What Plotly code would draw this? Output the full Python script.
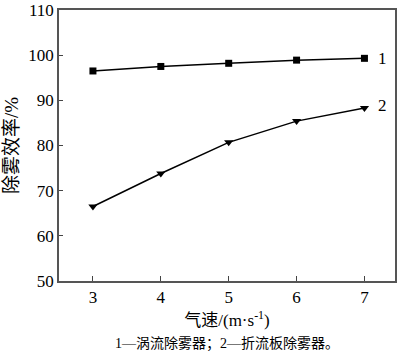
import plotly.graph_objects as go

speed = [3, 4, 5, 6, 7]
eff_vortex = [96.5, 97.5, 98.2, 98.9, 99.3]
eff_baffle = [66.5, 73.8, 80.7, 85.4, 88.3]
x_ticks = [3, 4, 5, 6, 7]
y_ticks = [50, 60, 70, 80, 90, 100, 110]

FONT = "Liberation Serif, Noto Sans CJK SC"

fig = go.Figure()
fig.add_trace(go.Scatter(x=speed, y=eff_vortex, mode="lines+markers",
                         line=dict(color="black", width=1.5),
                         marker=dict(symbol="square", size=7, color="black"),
                         showlegend=False, cliponaxis=False))
fig.add_trace(go.Scatter(x=speed, y=eff_baffle, mode="lines+markers",
                         line=dict(color="black", width=1.5),
                         marker=dict(symbol="triangle-down", size=8, color="black"),
                         showlegend=False, cliponaxis=False))

fig.add_annotation(x=speed[-1], y=eff_vortex[-1], text="1", showarrow=False,
                   xanchor="left", xshift=12, font=dict(size=17))
fig.add_annotation(x=speed[-1], y=eff_baffle[-1], text="2", showarrow=False,
                   xanchor="left", xshift=12, yshift=3, font=dict(size=17))
fig.add_annotation(x=0.5, y=-(344 - 281) / 271, xref="paper", yref="paper",
                   text="1—涡流除雾器；2—折流板除雾器。",
                   showarrow=False, font=dict(size=14, family=FONT),
                   xanchor="center", yanchor="middle")

fig.update_layout(
    width=400, height=354,
    margin=dict(l=59, r=5, t=10, b=73),
    paper_bgcolor="white", plot_bgcolor="white",
    font=dict(family=FONT, color="black", size=17),
    xaxis=dict(range=[2.5, 7.45], tickvals=x_ticks, ticks="inside", ticklen=5,
               showline=True, linecolor="#555", linewidth=1.5, mirror=True,
               showgrid=False, zeroline=False, ticklabeloverflow="allow", automargin=False,
               title=dict(text="气速/(m·s<sup>-1</sup>)", standoff=8, font=dict(size=17))),
    yaxis=dict(range=[50, 110], tickvals=y_ticks, ticks="inside", ticklen=4,
               showline=True, linecolor="#555", linewidth=1.5, mirror=True,
               showgrid=False, zeroline=False, ticklabeloverflow="allow", automargin=False,
               title=dict(text="除雾效率/%", standoff=5, font=dict(size=19))),
)

fig.write_html("out.html")
